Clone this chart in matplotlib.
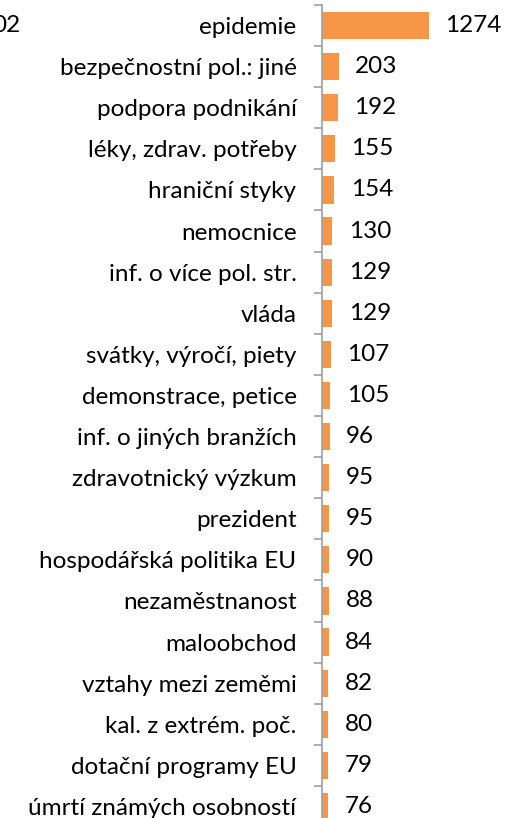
import numpy as np
import matplotlib.pyplot as plt

categories = [
    "epidemie", "bezpečnostní pol.: jiné", "podpora podnikání",
    "léky, zdrav. potřeby", "hraniční styky", "nemocnice",
    "inf. o více pol. str.", "vláda", "svátky, výročí, piety",
    "demonstrace, petice", "inf. o jiných branžích", "zdravotnický výzkum",
    "prezident", "hospodářská politika EU", "nezaměstnanost", "maloobchod",
    "vztahy mezi zeměmi", "kal. z extrém. poč.", "dotační programy EU",
    "úmrtí známých osobností",
]
values = [1274, 203, 192, 155, 154, 130, 129, 129, 107, 105,
          96, 95, 95, 90, 88, 84, 82, 80, 79, 76]

plt.rcParams['font.family'] = ['Lato', 'DejaVu Sans']
FS = 17.5

fig = plt.figure(figsize=(5.15, 8.18), dpi=100)
# axes extends slightly past the bottom edge, as in the cropped original
ax = fig.add_axes([321.5 / 515, -9 / 818, 193 / 515, 822 / 818])

y = np.arange(len(categories))
ax.barh(y, values, height=0.66, color="#F79646")
ax.set_ylim(len(categories) - 0.5, -0.5)
ax.set_xlim(0, 193 / 0.0842)

ax.set_yticks(y)
ax.set_yticklabels(categories, fontsize=FS)
ax.tick_params(axis="y", which="major", length=0, pad=18)
ax.set_yticks(np.arange(-0.5, len(categories)), minor=True)
ax.tick_params(axis="y", which="minor", length=5.5, color="#A0A0A0", width=1.2)
ax.set_xticks([])

for s in ["top", "right", "bottom"]:
    ax.spines[s].set_visible(False)
ax.spines["left"].set_color("#A0A0A0")
ax.spines["left"].set_linewidth(1.2)

for yi, v in zip(y, values):
    ax.annotate(str(v), (v, yi), xytext=(12, 0), textcoords="offset points",
                ha="left", va="center", fontsize=FS)

# fragment of a neighbouring label cut by the image edge
fig.text(-0.016, 1 - 25 / 818, "02", fontsize=FS, ha="left", va="center")

fig.savefig("out.png", dpi=100)
